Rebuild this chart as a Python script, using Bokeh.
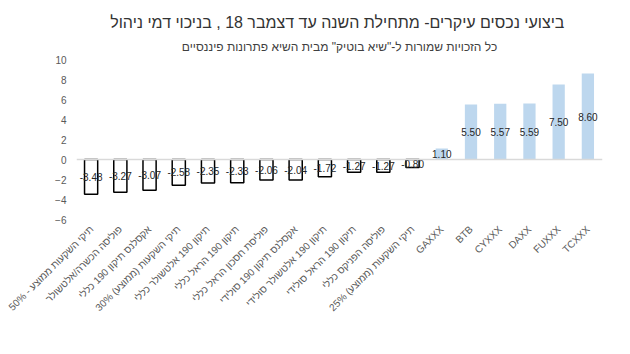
import math
from bokeh.plotting import figure
from bokeh.models import ColumnDataSource, Span, Title, FixedTicker, FactorRange, Range1d
from bokeh.embed import file_html
from bokeh.resources import INLINE
from bokeh.core.properties import value

title_text = "ביצועי  נכסים עיקרים- מתחילת השנה עד דצמבר 18 , בניכוי דמי ניהול"
subtitle_text = "כל הזכויות שמורות ל-\"שיא בוטיק\" מבית השיא פתרונות פיננסיים"

categories = [
    "תיקי השקעות ממוצע - 50%",
    "פוליסה הכשרה/אלטשולר",
    "אקסלנס תיקון 190 כללי",
    "תיקי השקעות (ממוצע) 30%",
    "תיקון 190 אלטשולר כללי",
    "תיקון 190 הראל כללי",
    "פוליסת חסכון הראל כללי",
    "אקסלנס תיקון 190 סולידי",
    "תיקון 190 אלטשולר סולידי",
    "תיקון 190 הראל סולידי",
    "פוליסה הפניקס כללי",
    "תיקי השקעות (ממוצע) 25%",
    "GAXXX",
    "BTB",
    "CYXXX",
    "DAXX",
    "FUXXX",
    "TCXXX",
]
values = [-3.48, -3.27, -3.07, -2.58, -2.35, -2.33, -2.06, -2.04, -1.72,
          -1.27, -1.27, -0.80, 1.10, 5.50, 5.57, 5.59, 7.50, 8.60]
y_ticks = [-6, -4, -2, 0, 2, 4, 6, 8, 10]

neg = ColumnDataSource(dict(
    x=[c for c, v in zip(categories, values) if v < 0],
    top=[v for v in values if v < 0],
))
pos = ColumnDataSource(dict(
    x=[c for c, v in zip(categories, values) if v >= 0],
    top=[v for v in values if v >= 0],
))
lab = ColumnDataSource(dict(
    x=categories,
    y=[v / 2 for v in values],
    t=["%.2f" % v for v in values],
))

p = figure(
    x_range=FactorRange(factors=categories, range_padding=0),
    y_range=Range1d(-6, 10),
    width=604, height=316,
    output_backend="svg", toolbar_location=None,
    min_border_left=70, min_border_right=8,
    min_border_top=56, min_border_bottom=99,
)
p.margin = (3, 0, 0, 6)
p.border_fill_color = "white"
p.background_fill_color = "white"
p.outline_line_color = "white"
p.xgrid.grid_line_color = None
p.ygrid.grid_line_color = None

p.title.text = title_text
p.title.align = "center"
p.title.standoff = 2
p.title.text_font = "Liberation Sans"
p.title.text_font_size = "16px"
p.title.text_font_style = "normal"
p.title.text_color = "#333333"

sub = Title(text=subtitle_text, align="center", standoff=12,
            text_font="Liberation Sans", text_font_size="12px",
            text_font_style="normal", text_color="#404040")
p.add_layout(sub, "above")

p.vbar(x="x", top="top", bottom=0, width=0.42, source=pos,
       fill_color="#BDD7EE", line_color=None)
p.vbar(x="x", top="top", bottom=0, width=0.45, source=neg,
       fill_color="white", line_color="black", line_width=1.5)

p.add_layout(Span(location=0, dimension="width", line_color="#d9d9d9", line_width=1.5))

p.text(x="x", y="y", text="t", source=lab, text_align="center",
       text_baseline="middle", text_font=value("Liberation Sans"),
       text_font_size="10px", text_color="#262626")

p.yaxis.ticker = FixedTicker(ticks=y_ticks)
p.yaxis.axis_line_color = None
p.yaxis.major_tick_line_color = None
p.yaxis.minor_tick_line_color = None
p.yaxis.major_label_text_font = "Liberation Sans"
p.yaxis.major_label_text_font_size = "10px"
p.yaxis.major_label_text_color = "#595959"
p.yaxis.major_label_standoff = 4

p.xaxis.axis_line_color = "white"
p.xaxis.major_tick_line_color = "white"
p.xaxis.minor_tick_line_color = None
p.xaxis.major_label_orientation = math.pi / 4
p.xaxis.major_label_text_font = "Liberation Sans"
p.xaxis.major_label_text_font_size = "10px"
p.xaxis.major_label_text_color = "#595959"
p.xaxis.major_label_standoff = 2

open("out.html", "w").write(file_html(p, INLINE))
